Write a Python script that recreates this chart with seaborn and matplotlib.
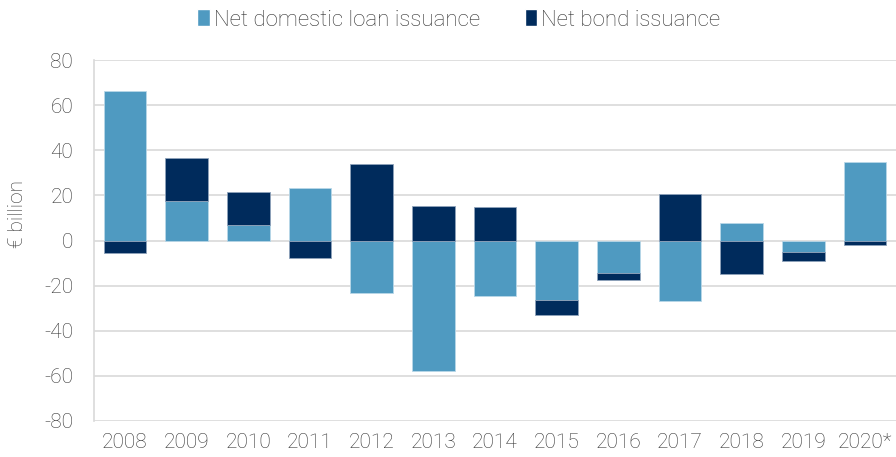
import matplotlib
matplotlib.use("Agg")
import matplotlib.pyplot as plt
import seaborn as sns
import numpy as np
from matplotlib.patches import Patch

years = ["2008", "2009", "2010", "2011", "2012", "2013", "2014",
         "2015", "2016", "2017", "2018", "2019", "2020*"]
loan_issuance = [66.2, 17.4, 6.8, 23.3, -23.3, -57.9, -24.8,
                 -26.3, -14.5, -27.0, 7.8, -4.9, 34.9]
bond_issuance = [-5.6, 19.3, 14.6, -7.8, 34.0, 15.5, 14.9,
                 -6.6, -3.1, 20.8, -14.9, -4.4, -2.2]

loan_color = "#4f9ac1"
bond_color = "#002b5c"
text_color = "#333333"
grid_color = "#d9d9d9"

sns.set_theme(style="white")
plt.rcParams["font.family"] = ["Roboto", "DejaVu Sans"]
plt.rcParams["font.weight"] = "light"
plt.rcParams["axes.labelweight"] = "light"
plt.rcParams["axes.unicode_minus"] = False

fig = plt.figure(figsize=(8.96, 4.57), dpi=100)
ax = fig.add_axes([94 / 896, 1 - 421 / 457, 802 / 896, 361 / 457])

loan = np.array(loan_issuance)
bond = np.array(bond_issuance)
# bonds stack on the loan bar when both share a sign, otherwise start at zero
bond_base = np.where(np.sign(loan) == np.sign(bond), loan, 0.0)

sns.barplot(x=years, y=loan_issuance, color=loan_color, saturation=1,
            width=0.69, errorbar=None, edgecolor="#b9d7e8", linewidth=0.6,
            ax=ax, zorder=3)
sns.barplot(x=years, y=bond_issuance, color=bond_color, saturation=1,
            width=0.69, errorbar=None, bottom=bond_base, edgecolor="#8fa3bb",
            linewidth=0.6, ax=ax, zorder=3)

ax.set_ylim(-80, 80)
ax.set_xlim(-0.5, len(years) - 0.5)
ax.set_yticks(np.arange(-80, 81, 20))
ax.yaxis.grid(True, color=grid_color, linewidth=1.2, zorder=0)
ax.xaxis.grid(False)
ax.set_axisbelow(True)
for side in ["top", "right", "bottom"]:
    ax.spines[side].set_visible(False)
ax.spines["left"].set_color(grid_color)
ax.spines["left"].set_linewidth(1.2)

ax.tick_params(axis="both", length=0, labelsize=15, colors=text_color)
ax.tick_params(axis="y", pad=15)
ax.tick_params(axis="x", pad=9)
ax.set_xlabel("")
ax.set_ylabel("€ billion", fontsize=15, color=text_color)
ax.yaxis.set_label_coords(-0.083, 0.573)

handles = [Patch(facecolor=loan_color, label="Net domestic loan issuance"),
           Patch(facecolor=bond_color, label="Net bond issuance")]
fig.legend(handles=handles, loc="center", bbox_to_anchor=(459 / 896, 1 - 20 / 457),
           ncol=2, frameon=False, fontsize=16, handlelength=0.55, handleheight=0.8,
           handletextpad=0.2, columnspacing=2.0, labelcolor=text_color)

fig.savefig("out.png", dpi=100)
